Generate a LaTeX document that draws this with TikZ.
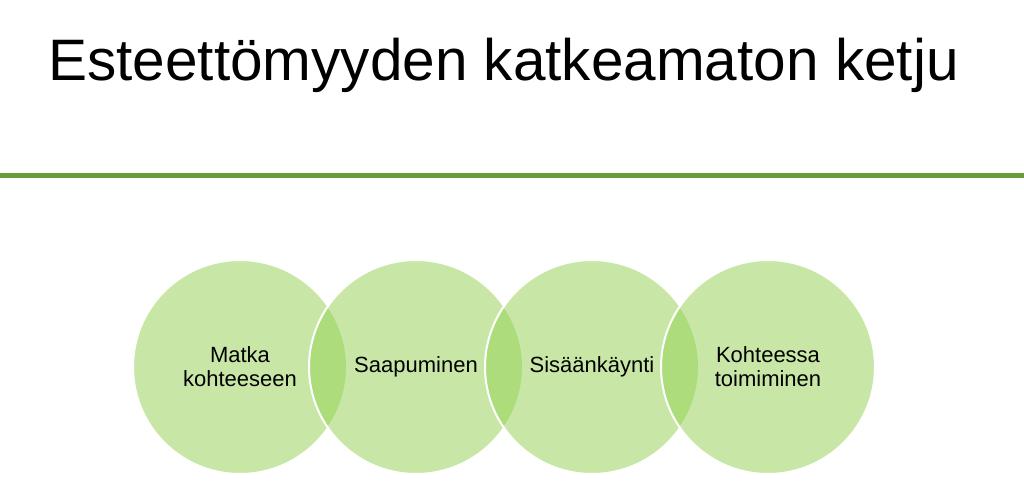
\documentclass[tikz,border=0pt]{standalone}
\usepackage{fontspec}
\setmainfont{Liberation Sans}
\definecolor{rulegreen}{RGB}{107,154,58}
\definecolor{venngreen}{RGB}{146,208,80}
\tikzset{
  venn/.style={circle, minimum size=214pt, inner sep=0pt, fill=venngreen, fill opacity=0.5, text opacity=1, draw=white, draw opacity=1, line width=2pt, align=center, font=\fontsize{22pt}{24pt}\selectfont, text=black},
  titletext/.style={anchor=base west, inner sep=0pt, font=\fontsize{58.5pt}{64pt}\selectfont, text=black}
}
\begin{document}
\begin{tikzpicture}[x=1pt,y=-1pt]
\useasboundingbox (0,0) rectangle (1024,502);
\node[titletext] (title) at (48,81) {Esteettömyyden katkeamaton ketju};
\coordinate (l1) at (0,175.5);
\coordinate (l2) at (1024,175.5);
\draw[rulegreen, line width=4.5pt] (l1) -- (l2);
\node[venn] (c1) at (240,367) {Matka\\kohteeseen};
\node[venn] (c2) at (416,367) {Saapuminen};
\node[venn] (c3) at (592,367) {Sisäänkäynti};
\node[venn] (c4) at (768,367) {Kohteessa\\toimiminen};
\end{tikzpicture}
\end{document}
